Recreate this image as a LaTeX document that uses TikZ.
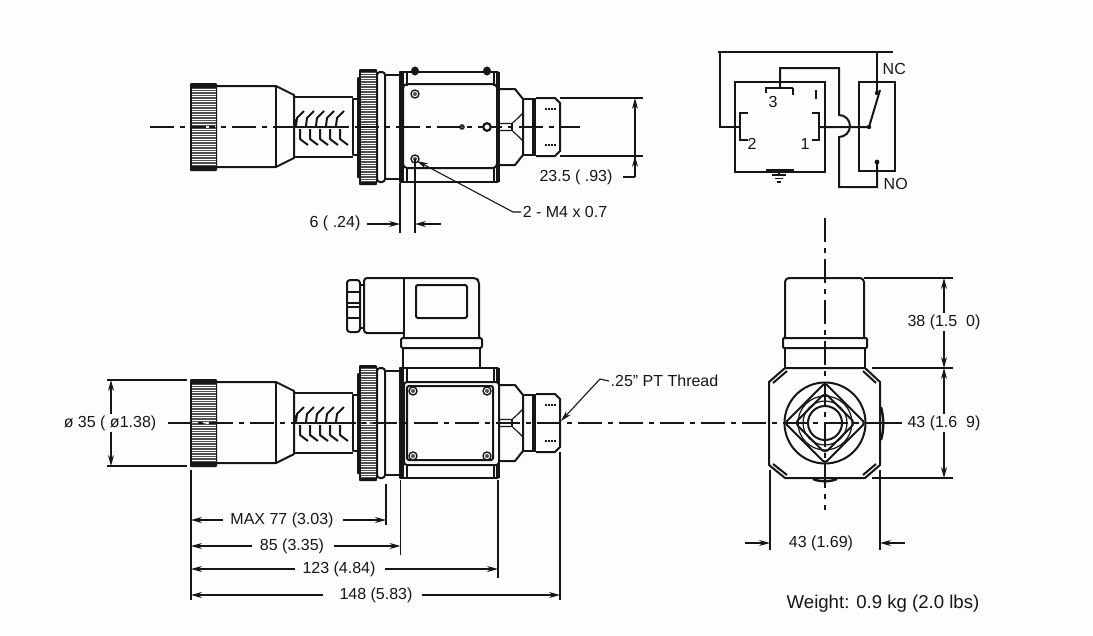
\documentclass[tikz,border=0pt]{standalone}
\usepackage{fontspec}
\setmainfont{Liberation Sans}
\usepackage{amsmath}
\usetikzlibrary{arrows.meta,calc,positioning}
\definecolor{ink}{HTML}{161616}
\definecolor{knurl}{HTML}{505050}
\definecolor{paper}{HTML}{FDFDFD}
\tikzset{%
	outline/.style  = {draw=ink, line width=2pt, line join=round},
	heavy/.style    = {draw=ink, line width=3.4pt},
	thinline/.style = {draw=ink, line width=1.1pt},
	axisline/.style = {draw=ink, line width=1.2pt, dash pattern=on 24pt off 6pt on 5pt off 6pt},
	dim/.style      = {thinline, -{Stealth[length=11pt,width=6pt]}},
	label/.style    = {inner sep=1.5pt, text=ink, font=\fontsize{16}{18}\selectfont},
	pin/.style      = {draw=ink, line width=2.2pt, line join=miter},
	wire/.style     = {draw=ink, line width=2pt, line join=miter},
	% hose, flange and fitting of the side views, centred on y=0 of the pic
	sensorside/.pic = {
		% knurled cap
		\fill[ink,rounded corners=1pt] (190,-44) rectangle (217,44);
		\fill[knurl] (192,-39) rectangle (216,39);
		\foreach \k in {-38,-35.5,...,38} \draw[white,line width=0.35pt] (192,\k) -- (216,\k);
		% hose
		\draw[outline] (217,-41) -- (276,-41) -- (294,-32) -- (294,31) -- (276,40) -- (217,40);
		\draw[outline] (276,-41) -- (276,40);
		\draw[outline] (294,-30) -- (353,-30) (294,30) -- (353,30);
		\draw[outline,line width=1.5pt] (353,-28) rectangle (358,28);
		\foreach \b in {0,10,...,40} {
			\draw[outline] (296+\b,-1) -- (297+\b,-9) -- (304+\b,-16);
			\draw[outline] (300+\b,2) -- (300+\b,12) -- (308+\b,18);
		}
		\draw[heavy] (295.5,-8) -- (295.5,0);
		\draw[outline] (296,0) -- (347,0);
		% flange
		\fill[ink,rounded corners=1pt] (357,-50) rectangle (361,51);
		\fill[ink,rounded corners=1pt] (359,-58) rectangle (377,58);
		\fill[knurl] (361,-55) rectangle (376,55);
		\foreach \k in {-54,-51.5,...,54} \draw[white,line width=0.35pt] (361,\k) -- (376,\k);
		\draw[outline,fill=paper,rounded corners=3pt] (377,-55) rectangle (385,55);
		\draw[outline] (385,-52) -- (400,-52) (385,52) -- (400,52);
		% housing
		\draw[outline] (400,-55) rectangle (498,55);
		\draw[heavy,line width=4pt] (401.5,-55) -- (401.5,55);
		\draw[heavy] (498,-55) -- (498,55);
		\draw[outline] (407,-55) -- (407,-41) (407,41) -- (407,55);
		\draw[outline] (494,-55) -- (494,-41) (494,41) -- (494,55);
		% fitting
		\draw[outline] (500,-38) -- (515,-38) -- (523,-28) -- (523,28) -- (515,38) -- (500,38);
		\draw[thinline] (500,-3.5) -- (512,-3.5) -- (518,-9) -- (523,-14);
		\draw[thinline] (500,3.5) -- (512,3.5) -- (518,9) -- (523,14);
		\draw[thinline] (512,-3.5) -- (512,3.5);
		\draw[outline] (523,-28) rectangle (533,28);
		\draw[heavy] (534.5,-29) -- (534.5,29);
		\draw[outline] (536,-29) -- (555,-29) -- (560,-24) -- (560,24) -- (555,29) -- (536,29);
		\draw[thinline,dash pattern=on 2pt off 1pt] (545,-18) -- (557,-18) (545,18) -- (557,18);
	},
	boltscrew/.pic = {
		\draw[outline,line width=1.4pt] (0,0) circle (4);
		\fill[knurl] (0,0) circle (2);
	},
}
\begin{document}
\begin{tikzpicture}[x=1pt,y=-1pt]
	\useasboundingbox[fill=paper] (0,0) rectangle (1093,635);
	
	% top view
	\fill[ink] (415,71) ellipse (4 and 4.5);
	\fill[ink] (487,71) ellipse (4 and 4.5);
	\pic at (0,127) {sensorside};
	\draw[outline,rounded corners=4pt] (403,84) rectangle (497,168);
	\pic at (415,94) {boltscrew};
	\pic at (415,159) {boltscrew};
	\draw[axisline] (150,127) -- (580,127);
	\fill[white] (205.5,126) rectangle (208.5,128);
	\draw[thinline,fill=knurl] (462,127) circle (2.2);
	\draw[outline,fill=paper,line width=2.2pt] (487,127) circle (3.8);
	
	\node[label] (lblsix) at (335,223) {6 ( .24)};
	\node[label] (lblscrew) at (565,212) {2 - M4 x 0.7};
	\node[label] (lblflat) at (576,177) {23.5 ( .93)};
	\coordinate (sixa) at (400,224);
	\coordinate (sixb) at (415,224);
	\coordinate (sixc) at (441,224);
	\coordinate (flatt) at (635,98);
	\coordinate (flatb) at (635,156);
	\coordinate (flatc) at (635,177);
	\coordinate (screwtip) at (417,161);
	\coordinate (screwelbow) at (513,212);
	\draw[thinline] (400,183) -- (400,233);
	\draw[thinline] (415,159) -- (415,233);
	\draw[dim] (lblsix.east) ++(5,1) -- (sixa);
	\draw[dim] (sixc) -- (sixb);
	\draw[dim] (lblscrew.west) -- (screwelbow) -- (screwtip);
	\draw[thinline] (560,98) -- (643,98);
	\draw[thinline] (560,156) -- (643,156);
	\draw[dim] (flatc) -- (flatt);
	\draw[dim] (flatc) -- (flatb);
	\draw[thinline] (lblflat.east) ++(9,0) -- (flatc);
	
	% wiring
	\draw[wire] (735,82) rectangle (825,172);
	\draw[wire] (859,82) rectangle (895,171);
	\draw[thinline,line width=1.5pt] (718,52) -- (893,52);
	\draw[wire] (720,52) -- (720,127) -- (740,127);
	\draw[wire] (877,52) -- (877,93);
	\draw[wire] (819,127) -- (869,127) -- (880,90);
	\draw[wire] (780,88) -- (780,68) -- (839,68) -- (839,115) arc (-90:90:11) -- (839,187) -- (877,187) -- (877,162);
	\fill[ink] (869,127) circle (2.2) (877,162) circle (2.4) (877,93) circle (2.2);
	\draw[pin] (766,93) -- (766,88) -- (793,88);
	\draw[thinline] (793,88) -- (793,95);
	\draw[pin] (816,90) -- (816,99);
	\draw[pin] (748,113) -- (740,113) -- (740,140) -- (748,140);
	\draw[pin] (812,113) -- (819,113) -- (819,140) -- (812,140);
	\draw[thinline,line width=1.8pt] (766,170) -- (794,170);
	\draw[thinline] (779,172) -- (779,175) (772,175) -- (786,175) (775,178.5) -- (783,178.5) (777,182) -- (781,182);
	\node[label] (pinthree) at (773,102) {3};
	\node[label] (pintwo) at (752,144) {2};
	\node[label] (pinone) at (805,144) {1};
	\node[label,anchor=west] (lblnc) at (881,69) {NC};
	\node[label,anchor=west] (lblno) at (882,184) {NO};
	
	% front view
	\draw[outline,rounded corners=3pt] (347,280) rectangle (360,332);
	\draw[outline] (347,292) -- (360,292) (347,303) -- (360,303) (347,307) -- (360,307) (347,318) -- (360,318);
	\draw[outline] (360,285) -- (364,285) (360,328) -- (364,328);
	\draw[outline,rounded corners=3pt] (404,333) -- (364,333) -- (364,278) -- (476,278) -- (479,281) -- (479,338);
	\draw[outline] (404,278) -- (404,338);
	\draw[outline,rounded corners=2pt] (416,285) rectangle (467,318);
	\draw[outline,rounded corners=2pt] (401,338) rectangle (482,348);
	\draw[outline] (403,348) -- (403,368) (480,348) -- (480,368);
	\pic at (0,423) {sensorside};
	\draw[outline,fill=paper,rounded corners=3pt] (404,382) rectangle (499,465);
	\draw[outline,rounded corners=2pt] (407,386) rectangle (493,460);
	\pic at (413,391) {boltscrew};
	\pic at (487,391) {boltscrew};
	\pic at (413,456) {boltscrew};
	\pic at (487,456) {boltscrew};
	\draw[axisline] (168,423) -- (902,423);
	\fill[white] (205.5,422) rectangle (208.5,424) (366.5,422) rectangle (369.5,424);
	
	\node[label] (lbldia) at (110,423) {ø 35 ( ø1.38)};
	\node[label,anchor=west] (lblthread) at (609,381) {.25" PT Thread};
	\coordinate (threadtip) at (561,421);
	\coordinate (threadelbow) at (600,379);
	\draw[dim] (lblthread.west) -- (threadelbow) -- (threadtip);
	\coordinate (diat) at (111,380);
	\coordinate (diab) at (111,466);
	\draw[thinline] (107,380) -- (187,380);
	\draw[thinline] (107,466) -- (187,466);
	\draw[dim] (lbldia.north -| diat) -- (diat);
	\draw[dim] (lbldia.south -| diab) -- (diab);
	
	% length dimensions
	\coordinate (xcap) at (191,600);
	\coordinate (xmax) at (386,525);
	\coordinate (xhousing) at (400.5,555);
	\coordinate (xbody) at (498,578);
	\coordinate (xtotal) at (560,600);
	\draw[thinline] (191,470) -- (xcap);
	\draw[thinline] (386,484) -- (xmax);
	\draw[thinline] (400.5,480) -- (xhousing);
	\draw[thinline] (498,480) -- (xbody);
	\draw[thinline] (560,452) -- (xtotal);
	\node[label] (lblmax) at (282,520) {MAX 77 (3.03)};
	\node[label] (lbleightyfive) at (292,546) {85 (3.35)};
	\node[label] (lblbody) at (339,569) {123 (4.84)};
	\node[label] (lbltotal) at (376,595) {148 (5.83)};
	\draw[dim] (lblmax.west) ++(-6,0) -- (xcap |- lblmax);
	\draw[dim] (lblmax.east) ++(8,0) -- (xmax |- lblmax);
	\draw[dim] (lbleightyfive.west) ++(-6,0) -- (xcap |- lbleightyfive);
	\draw[dim] (lbleightyfive.east) ++(8,0) -- (xhousing |- lbleightyfive);
	\draw[dim] (lblbody.west) ++(-6,0) -- (xcap |- lblbody);
	\draw[dim] (lblbody.east) ++(8,0) -- (xbody |- lblbody);
	\draw[dim] (lbltotal.west) ++(-15,0) -- (xcap |- lbltotal);
	\draw[dim] (lbltotal.east) ++(8,0) -- (xtotal |- lbltotal);
	
	% end view
	\draw[axisline] (825,218) -- (825,510);
	\draw[outline,rounded corners=4pt] (785,338) -- (785,278) -- (864,278) -- (864,338);
	\draw[outline,rounded corners=1pt] (783,338) rectangle (867,348);
	\draw[outline] (785,348) -- (785,368) (865,348) -- (865,368);
	\draw[outline] (785,368) -- (865,368) -- (880,382) -- (880,465) -- (865,478) -- (785,478) -- (769,465) -- (769,382) -- cycle;
	\draw[outline] (787,371) -- (773,383) (863,371) -- (876,383) (787,475) -- (773,464) (863,475) -- (876,464);
	\draw[outline,line width=2.4pt] (881,407) .. controls (884,418) and (884,430) .. (881,440);
	\draw[outline,line width=2.4pt] (813,479) .. controls (820,482) and (830,482) .. (837,479);
	\draw[outline] (825,423) circle (40.5);
	\draw[outline,rounded corners=3pt] (825,383) -- (865,423) -- (825,463) -- (785,423) -- cycle;
	\draw[outline,rounded corners=4pt] (825,393) -- (855,423) -- (825,453) -- (795,423) -- cycle;
	\draw[thinline,line width=1.2pt] (825,423) circle (27) (825,423) circle (22);
	\draw[outline] (825,423) circle (17);
	\draw[thinline] (880,423) -- (902,423);
	
	\node[label] (lblcap) at (944,322) {38 (1.5\ \ 0)};
	\node[label] (lblside) at (944,423) {43 (1.6\ \ 9)};
	\node[label] (lblwidth) at (821,543) {43 (1.69)};
	\node[label,anchor=west,font=\fontsize{18.6}{20}\selectfont] (lblweight) at (785,604) {Weight: 0.9 kg (2.0 lbs)};
	\coordinate (captop) at (944,278);
	\coordinate (capbot) at (944,368);
	\coordinate (sidetop) at (944,368);
	\coordinate (sidebot) at (944,478);
	\draw[thinline] (864,278) -- (953,278);
	\draw[thinline] (872,368) -- (953,368);
	\draw[thinline] (872,478) -- (953,478);
	\draw[dim] (lblcap.north -| captop) -- (captop);
	\draw[dim] (lblcap.south -| capbot) -- (capbot);
	\draw[dim] (lblside.north -| sidetop) -- (sidetop);
	\draw[dim] (lblside.south -| sidebot) -- (sidebot);
	\coordinate (widtha) at (770,543);
	\coordinate (widthb) at (880,543);
	\coordinate (widthc) at (745,543);
	\coordinate (widthd) at (905,543);
	\draw[thinline] (770,470) -- (770,550);
	\draw[thinline] (880,470) -- (880,550);
	\draw[dim] (widthc) -- (widtha);
	\draw[dim] (widthd) -- (widthb);
\end{tikzpicture}
\end{document}
